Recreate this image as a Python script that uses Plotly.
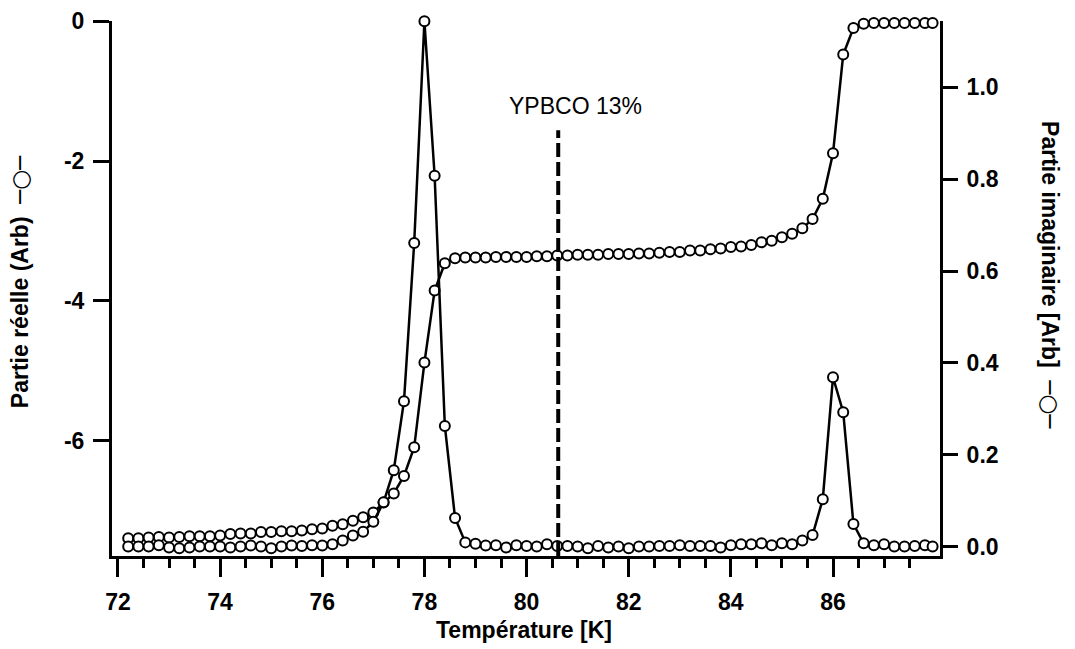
import plotly.graph_objects as go

# ---------------- data ----------------
temperature = [72.2, 72.4, 72.6, 72.8, 73.0, 73.2, 73.4, 73.6, 73.8, 74.0,
               74.2, 74.4, 74.6, 74.8, 75.0, 75.2, 75.4, 75.6, 75.8, 76.0,
               76.2, 76.4, 76.6, 76.8, 77.0, 77.2, 77.4, 77.6, 77.8, 78.0,
               78.2, 78.4, 78.6, 78.8, 79.0, 79.2, 79.4, 79.6, 79.8, 80.0,
               80.2, 80.4, 80.6, 80.8, 81.0, 81.2, 81.4, 81.6, 81.8, 82.0,
               82.2, 82.4, 82.6, 82.8, 83.0, 83.2, 83.4, 83.6, 83.8, 84.0,
               84.2, 84.4, 84.6, 84.8, 85.0, 85.2, 85.4, 85.6, 85.8, 86.0,
               86.2, 86.4, 86.6, 86.8, 87.0, 87.2, 87.4, 87.6, 87.8, 87.95]

partie_reelle = [-7.39, -7.39, -7.38, -7.37, -7.38, -7.37, -7.36, -7.36, -7.36, -7.35,
                 -7.33, -7.32, -7.32, -7.30, -7.30, -7.29, -7.29, -7.28, -7.26, -7.25,
                 -7.21, -7.19, -7.14, -7.09, -7.02, -6.88, -6.75, -6.50, -6.09, -4.88,
                 -3.85, -3.46, -3.39, -3.38, -3.38, -3.38, -3.37, -3.37, -3.37, -3.37,
                 -3.36, -3.36, -3.35, -3.35, -3.34, -3.34, -3.34, -3.33, -3.33, -3.33,
                 -3.32, -3.32, -3.31, -3.30, -3.30, -3.28, -3.28, -3.26, -3.25, -3.23,
                 -3.22, -3.20, -3.16, -3.14, -3.09, -3.04, -2.96, -2.83, -2.54, -1.89,
                 -0.48, -0.10, -0.04, -0.03, -0.03, -0.03, -0.03, -0.03, -0.03, -0.03]

partie_imaginaire = [0.001, 0.001, 0.001, 0.004, -0.001, -0.003, -0.001, 0.001, 0.001, 0.001,
                     -0.001, 0.001, 0.003, 0.001, -0.003, 0.001, 0.003, 0.002, 0.004, 0.003,
                     0.006, 0.014, 0.025, 0.033, 0.055, 0.097, 0.167, 0.317, 0.661, 1.143,
                     0.807, 0.263, 0.063, 0.010, 0.007, 0.003, 0.004, -0.001, 0.004, 0.002,
                     0.001, 0.006, 0.002, 0.002, 0.001, -0.003, 0.002, -0.001, 0.001, -0.003,
                     0.001, 0.001, 0.002, 0.002, 0.004, 0.002, 0.002, 0.002, -0.001, 0.004,
                     0.006, 0.006, 0.008, 0.004, 0.008, 0.006, 0.014, 0.026, 0.104, 0.369,
                     0.293, 0.050, 0.008, 0.004, 0.006, 0.001, 0.001, 0.002, 0.004, 0.001]

x_major_ticks = [72, 74, 76, 78, 80, 82, 84, 86]
x_major_labels = ["72", "74", "76", "78", "80", "82", "84", "86"]
x_minor_ticks = [72.5, 73, 73.5, 74.5, 75, 75.5, 76.5, 77, 77.5, 78.5, 79, 79.5,
                 80.5, 81, 81.5, 82.5, 83, 83.5, 84.5, 85, 85.5, 86.5, 87, 87.5]
y_left_ticks = [0, -2, -4, -6]
y_left_labels = ["0", "-2", "-4", "-6"]
y_right_ticks = [0.0, 0.2, 0.4, 0.6, 0.8, 1.0]
y_right_labels = ["0.0", "0.2", "0.4", "0.6", "0.8", "1.0"]

x_range = [71.883, 88.095]
y_left_range = [-7.643, 0.0]
y_right_range = [-0.0196, 1.1435]

tc_line_x = 80.62
tc_line_top = -1.56
label_text = "YPBCO 13%"
label_x = 80.95
label_y = -1.21

FONT = "Liberation Sans, Arial, sans-serif"
SYM = '<span style="font-family:DejaVu Sans">─○─</span>'

marker_style = dict(symbol="circle", size=10, color="white",
                    line=dict(color="black", width=2))

fig = go.Figure()
fig.add_trace(go.Scatter(x=temperature, y=partie_reelle, mode="lines+markers",
                         line=dict(color="black", width=2.5), marker=marker_style,
                         cliponaxis=False, yaxis="y", showlegend=False))
fig.add_trace(go.Scatter(x=temperature, y=partie_imaginaire, mode="lines+markers",
                         line=dict(color="black", width=2.5), marker=marker_style,
                         cliponaxis=False, yaxis="y2", showlegend=False))

axis_common = dict(showline=True, linecolor="black", linewidth=3, ticks="outside",
                   tickcolor="black", showgrid=False, zeroline=False,
                   tickfont=dict(family=FONT, size=23, color="black", weight="bold"))

# page body has an 8px margin: figure is sized/offset to land on the reference pixels
fig.update_layout(
    width=1067, height=641,
    margin=dict(l=104, r=135, t=13, b=93, autoexpand=False),
    paper_bgcolor="white", plot_bgcolor="white",
    font=dict(family=FONT, color="black"),
    xaxis=dict(range=x_range, tickvals=x_major_ticks, ticktext=x_major_labels,
               ticklen=18, tickwidth=3, ticklabelstandoff=5,
               minor=dict(tickvals=x_minor_ticks, ticklen=9, tickwidth=2.5,
                          ticks="outside", tickcolor="black", showgrid=False),
               **axis_common),
    yaxis=dict(range=y_left_range, tickvals=y_left_ticks, ticktext=y_left_labels,
               ticklen=16, tickwidth=3, ticklabelstandoff=4, **axis_common),
    yaxis2=dict(range=y_right_range, tickvals=y_right_ticks, ticktext=y_right_labels,
                overlaying="y", side="right", anchor="x",
                ticklen=15, tickwidth=3, ticklabelstandoff=4, **axis_common),
    shapes=[dict(type="line", xref="x", yref="y", x0=tc_line_x, x1=tc_line_x,
                 y0=y_left_range[0], y1=tc_line_top,
                 line=dict(color="black", width=4, dash="14px,5px"))],
    annotations=[
        dict(text=label_text, x=label_x, y=label_y, xref="x", yref="y",
             showarrow=False, font=dict(family=FONT, size=23, color="black")),
        dict(text="<b>Température [K]</b>", x=0.4976, y=-0.138, xref="paper", yref="paper",
             showarrow=False, xanchor="center", yanchor="middle",
             font=dict(family=FONT, size=23, color="black")),
        dict(text="<b>Partie réelle (Arb)</b>  " + SYM, x=-0.111, y=0.512,
             xref="paper", yref="paper", textangle=-90, showarrow=False,
             xanchor="center", yanchor="middle",
             font=dict(family=FONT, size=23, color="black")),
        dict(text="<b>Partie imaginaire [Arb]</b>  " + SYM, x=1.1329, y=0.525,
             xref="paper", yref="paper", textangle=90, showarrow=False,
             xanchor="center", yanchor="middle",
             font=dict(family=FONT, size=23, color="black")),
    ],
)

fig.write_html("out.html")
